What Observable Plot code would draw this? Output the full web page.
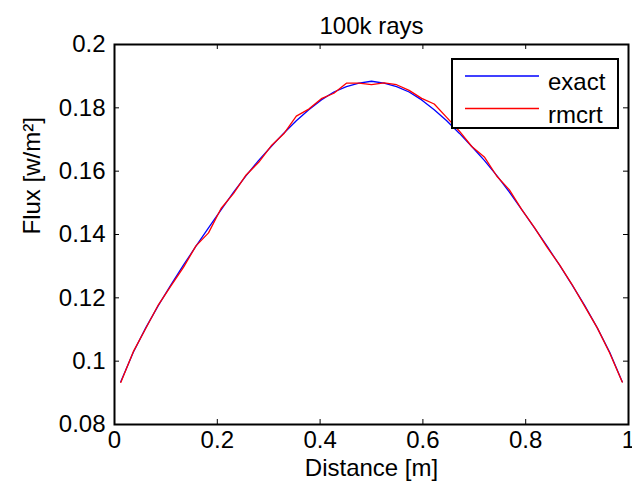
<!DOCTYPE html>
<html>
<head>
<meta charset="utf-8">
<script src="https://cdn.jsdelivr.net/npm/d3@7"></script>
<script src="https://cdn.jsdelivr.net/npm/@observablehq/plot@0.6"></script>
<style>
  html, body { margin: 0; padding: 0; background: #fff; overflow: hidden; }
  #wrap { position: relative; width: 632px; height: 493px; font-family: "Liberation Sans", Arial, Helvetica, sans-serif; }
  #legend { position: absolute; left: 451px; top: 58px; }
</style>
</head>
<body>
<div id="wrap"></div>
<script>
const distance = [0.0122, 0.0366, 0.0610, 0.0854, 0.1098, 0.1341, 0.1585, 0.1829, 0.2073, 0.2317,
  0.2561, 0.2805, 0.3049, 0.3293, 0.3537, 0.3780, 0.4024, 0.4268, 0.4512, 0.4756,
  0.5000, 0.5244, 0.5488, 0.5732, 0.5976, 0.6220, 0.6463, 0.6707, 0.6951, 0.7195,
  0.7439, 0.7683, 0.7927, 0.8171, 0.8415, 0.8659, 0.8902, 0.9146, 0.9390, 0.9634, 0.9878];
const exactFlux = [0.0935, 0.1028, 0.1106, 0.1176, 0.1241, 0.1303, 0.1363, 0.1421, 0.1478, 0.1534,
  0.1586, 0.1634, 0.1678, 0.1720, 0.1759, 0.1794, 0.1825, 0.1850, 0.1867, 0.1878,
  0.1884, 0.1878, 0.1867, 0.1850, 0.1825, 0.1794, 0.1759, 0.1720, 0.1678, 0.1634,
  0.1586, 0.1534, 0.1478, 0.1421, 0.1363, 0.1303, 0.1241, 0.1176, 0.1106, 0.1028, 0.0935];
const rmcrtFlux = [0.0933, 0.1030, 0.1104, 0.1178, 0.1238, 0.1296, 0.1364, 0.1405, 0.1482, 0.1530,
  0.1588, 0.1628, 0.1680, 0.1718, 0.1774, 0.1796, 0.1829, 0.1846, 0.1878, 0.1878,
  0.1873, 0.1879, 0.1873, 0.1855, 0.1830, 0.1812, 0.1770, 0.1727, 0.1678, 0.1645,
  0.1584, 0.1541, 0.1478, 0.1422, 0.1360, 0.1304, 0.1242, 0.1174, 0.1106, 0.1026, 0.0934];
const xTicks = [0, 0.2, 0.4, 0.6, 0.8, 1];
const xTickLabels = ["0", "0.2", "0.4", "0.6", "0.8", "1"];
const yTicks = [0.08, 0.1, 0.12, 0.14, 0.16, 0.18, 0.2];
const yTickLabels = ["0.08", "0.1", "0.12", "0.14", "0.16", "0.18", "0.2"];
const seriesNames = ["exact", "rmcrt"];
const seriesColors = ["#0000ff", "#ff0000"];
const titleText = "100k rays";
const xLabel = "Distance [m]";
const yLabel = "Flux [w/m²]";

const exactRows = distance.map((d, i) => ({x: d, y: exactFlux[i]}));
const rmcrtRows = distance.map((d, i) => ({x: d, y: rmcrtFlux[i]}));

const W = 632, H = 493, mL = 114, mR = 4, mT = 44, mB = 69;
const fw = W - mL - mR, fh = H - mT - mB, tick = 5;
const font = '"Liberation Sans", Arial, Helvetica, sans-serif';

const chart = Plot.plot({
  width: W, height: H,
  marginLeft: mL, marginRight: mR, marginTop: mT, marginBottom: mB,
  style: {fontFamily: font, fontSize: "24px", color: "black", background: "white", overflow: "visible"},
  x: {domain: [0, 1]},
  y: {domain: [0.08, 0.2]},
  marks: [
    Plot.line(exactRows, {x: "x", y: "y", stroke: seriesColors[0], strokeWidth: 1.3}),
    Plot.line(rmcrtRows, {x: "x", y: "y", stroke: seriesColors[1], strokeWidth: 1.3}),
    Plot.ruleX(xTicks, {x: d => d, insetTop: fh - tick, stroke: "black", strokeWidth: 1}),
    Plot.ruleX(xTicks, {x: d => d, insetBottom: fh - tick, stroke: "black", strokeWidth: 1}),
    Plot.ruleY(yTicks, {y: d => d, insetRight: fw - tick, stroke: "black", strokeWidth: 1}),
    Plot.ruleY(yTicks, {y: d => d, insetLeft: fw - tick, stroke: "black", strokeWidth: 1}),
    Plot.frame({stroke: "black", strokeWidth: 2}),
    Plot.axisX({ticks: xTicks, tickSize: 0, tickPadding: 6, tickFormat: (d, i) => xTickLabels[xTicks.indexOf(d)], label: null, fontSize: 24}),
    Plot.axisY({ticks: yTicks, tickSize: 0, tickPadding: 9, tickFormat: (d) => yTickLabels[yTicks.indexOf(d)], label: null, fontSize: 24}),
    Plot.text([titleText], {text: d => d, frameAnchor: "top", dy: -18, lineAnchor: "middle", fontSize: 24}),
    Plot.text([xLabel], {text: d => d, frameAnchor: "bottom", dy: 44, lineAnchor: "middle", fontSize: 24}),
    Plot.text([yLabel], {text: d => d, frameAnchor: "left", dx: -82, rotate: -90, lineAnchor: "middle", fontSize: 24})
  ]
});
document.getElementById("wrap").appendChild(chart);

// legend
const ns = "http://www.w3.org/2000/svg";
const lg = document.createElementNS(ns, "svg");
lg.setAttribute("id", "legend");
lg.setAttribute("width", 168);
lg.setAttribute("height", 71);
const box = document.createElementNS(ns, "rect");
box.setAttribute("x", 1); box.setAttribute("y", 1);
box.setAttribute("width", 166); box.setAttribute("height", 69);
box.setAttribute("fill", "white"); box.setAttribute("stroke", "black"); box.setAttribute("stroke-width", 2);
lg.appendChild(box);
seriesNames.forEach((name, i) => {
  const ly = 18 + i * 32.5;
  const ln = document.createElementNS(ns, "line");
  ln.setAttribute("x1", 14); ln.setAttribute("x2", 88);
  ln.setAttribute("y1", ly); ln.setAttribute("y2", ly);
  ln.setAttribute("stroke", seriesColors[i]); ln.setAttribute("stroke-width", 1.3);
  lg.appendChild(ln);
  const tx = document.createElementNS(ns, "text");
  tx.setAttribute("x", 97); tx.setAttribute("y", ly + 14);
  tx.setAttribute("font-family", font); tx.setAttribute("font-size", 24);
  tx.textContent = name;
  lg.appendChild(tx);
});
document.getElementById("wrap").appendChild(lg);
</script>
</body>
</html>
